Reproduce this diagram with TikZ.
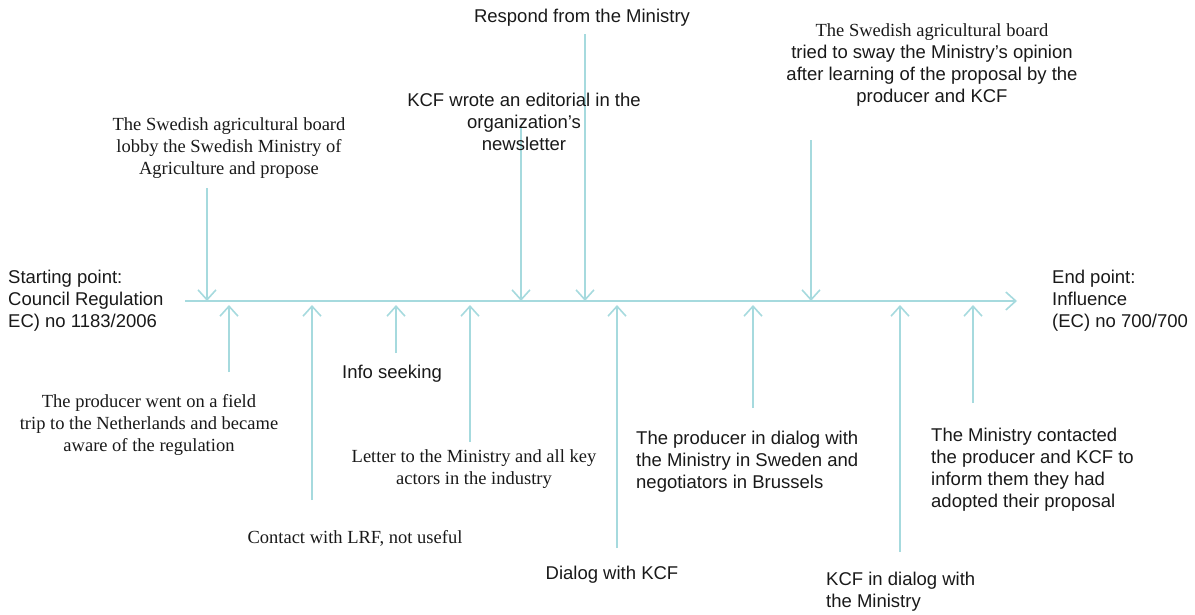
\documentclass[tikz,border=0pt]{standalone}
\usepackage{fontspec}
\setmainfont{Liberation Sans}
\newfontfamily\serifF{Liberation Serif}
\usetikzlibrary{arrows.meta}
\definecolor{tl}{RGB}{166,218,222}
\definecolor{txt}{RGB}{25,25,25}
\tikzset{
  conn/.style={draw=tl, line width=1.8pt, -{Straight Barb[length=10pt,width=18pt,line width=1.6pt]}},
  lbl/.style={inner sep=0pt, text=txt, align=center, font=\fontsize{18.5}{22}\selectfont},
  lbll/.style={lbl, align=left},
  slbl/.style={lbl, font=\fontsize{18.5}{22}\selectfont\serifF},
}
\begin{document}
\begin{tikzpicture}[x=1pt,y=-1pt]
\useasboundingbox (0,0) rectangle (1195,614);
% timeline
\coordinate (ls) at (185,301);
\coordinate (le) at (1017,301);
\draw[conn] (ls) -- (le);
% down arrows (from above)
\coordinate (d1s) at (207,188); \coordinate (d1e) at (207,301);
\coordinate (d2s) at (521,127); \coordinate (d2e) at (521,301);
\coordinate (d3s) at (585,34);  \coordinate (d3e) at (585,301);
\coordinate (d4s) at (811,140); \coordinate (d4e) at (811,301);
\draw[conn] (d1s) -- (d1e);
\draw[conn] (d2s) -- (d2e);
\draw[conn] (d3s) -- (d3e);
\draw[conn] (d4s) -- (d4e);
% up arrows (from below)
\coordinate (u1s) at (229,372); \coordinate (u1e) at (229,305);
\coordinate (u2s) at (312,500); \coordinate (u2e) at (312,305);
\coordinate (u3s) at (396,353); \coordinate (u3e) at (396,305);
\coordinate (u4s) at (470,442); \coordinate (u4e) at (470,305);
\coordinate (u5s) at (617,548); \coordinate (u5e) at (617,305);
\coordinate (u6s) at (753,408); \coordinate (u6e) at (753,305);
\coordinate (u7s) at (900,552); \coordinate (u7e) at (900,305);
\coordinate (u8s) at (973,403); \coordinate (u8e) at (973,305);
\foreach \i in {1,...,8} {\draw[conn] (u\i s) -- (u\i e);}
% labels above
\node[slbl] (t1) at (229,148) {The Swedish agricultural board\\lobby the Swedish Ministry of\\Agriculture and propose};
\node[lbl] (t2) at (524,122) {KCF wrote an editorial in the\\organization's\\newsletter};
\node[lbl] (t3) at (582,18) {Respond from the Ministry};
\node[lbl] (t4) at (932,65) {{\serifF The Swedish agricultural board}\\tried to sway the Ministry's opinion\\after learning of the proposal by the\\producer and KCF};
% ends
\node[lbll, anchor=west] (start) at (8,301) {Starting point:\\Council Regulation\\EC) no 1183/2006};
\node[lbll, anchor=west] (end) at (1052,301) {End point:\\Influence\\(EC) no 700/700};
% labels below
\node[slbl] (b1) at (149,425) {The producer went on a field\\trip to the Netherlands and became\\aware of the regulation};
\node[lbl] (b2) at (392,374) {Info seeking};
\node[slbl] (b3) at (474,469) {Letter to the Ministry and all key\\actors in the industry};
\node[slbl] (b4) at (355,538) {Contact with LRF, not useful};
\node[lbll, anchor=west] (b5) at (636,462) {The producer in dialog with\\the Ministry in Sweden and\\negotiators in Brussels};
\node[lbl] (b6) at (612,575) {Dialog with KCF};
\node[lbll, anchor=west] (b7) at (826,592) {KCF in dialog with\\the Ministry};
\node[lbll, anchor=west] (b8) at (931,470) {The Ministry contacted\\the producer and KCF to\\inform them they had\\adopted their proposal};
\end{tikzpicture}
\end{document}
